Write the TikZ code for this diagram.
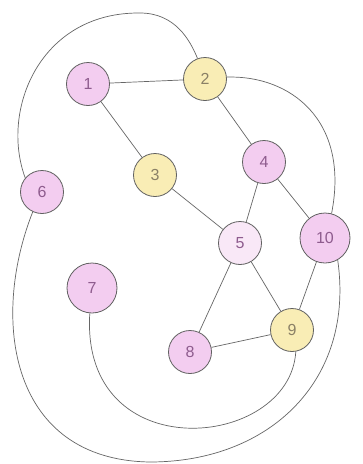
\documentclass[tikz,border=0pt]{standalone}
\usepackage{fontspec}
\setmainfont{Liberation Sans}
\begin{document}
\begin{tikzpicture}[x=1pt,y=-1pt,
  vtx/.style={circle,draw=gray!75!black,line width=0.8pt,inner sep=0pt,minimum size=43pt,font=\fontsize{16}{16}\selectfont},
  pk/.style={vtx,fill=pinkfill,text=pinktext},
  lpk/.style={vtx,fill=lightpink,text=pinktext},
  yl/.style={vtx,fill=yellowfill,text=yellowtext},
  big/.style={minimum size=50pt},
  edge/.style={draw=gray!80!black,line width=0.7pt}]
\definecolor{pinkfill}{HTML}{F3CDF0}
\definecolor{lightpink}{HTML}{F9E8F7}
\definecolor{yellowfill}{HTML}{F9EDB5}
\definecolor{pinktext}{HTML}{8E5C8E}
\definecolor{yellowtext}{HTML}{8A8066}
\useasboundingbox (0,0) rectangle (363,464);
\fill[white] (0,0) rectangle (363,464);
\node[pk] (n1) at (88,84) {1};
\node[yl] (n2) at (205,79) {2};
\node[yl] (n3) at (155,175) {3};
\node[pk] (n4) at (264,162) {4};
\node[lpk] (n5) at (240,243) {5};
\node[pk] (n6) at (42,192) {6};
\node[pk,big] (n7) at (92,288) {7};
\node[pk] (n8) at (190,352) {8};
\node[yl] (n9) at (292,330) {9};
\node[pk,big] (n10) at (325,238) {10};
\draw[edge] (n1) -- (n2);
\draw[edge] (n1) -- (n3);
\draw[edge] (n2) -- (n4);
\draw[edge] (n3) -- (n5);
\draw[edge] (n4) -- (n5);
\draw[edge] (n4) -- (n10);
\draw[edge] (n5) -- (n8);
\draw[edge] (n5) -- (n9);
\draw[edge] (n8) -- (n9);
\draw[edge] (n9) -- (n10);
\coordinate (top) at (140,13);
\draw[edge] (n6.140) .. controls (0,110) and (40,12) .. (top) .. controls (175,13) and (190,40) .. (n2.110);
\draw[edge] (n2.5) .. controls (290,75) and (350,120) .. (n10.75);
\draw[edge] (n7.-95) .. controls (80,470) and (290,450) .. (n9.-80);
\coordinate (bot) at (150,462);
\draw[edge] (n6.-115) .. controls (-10,320) and (10,460) .. (bot) .. controls (270,462) and (355,380) .. (n10.-60);
\end{tikzpicture}
\end{document}
